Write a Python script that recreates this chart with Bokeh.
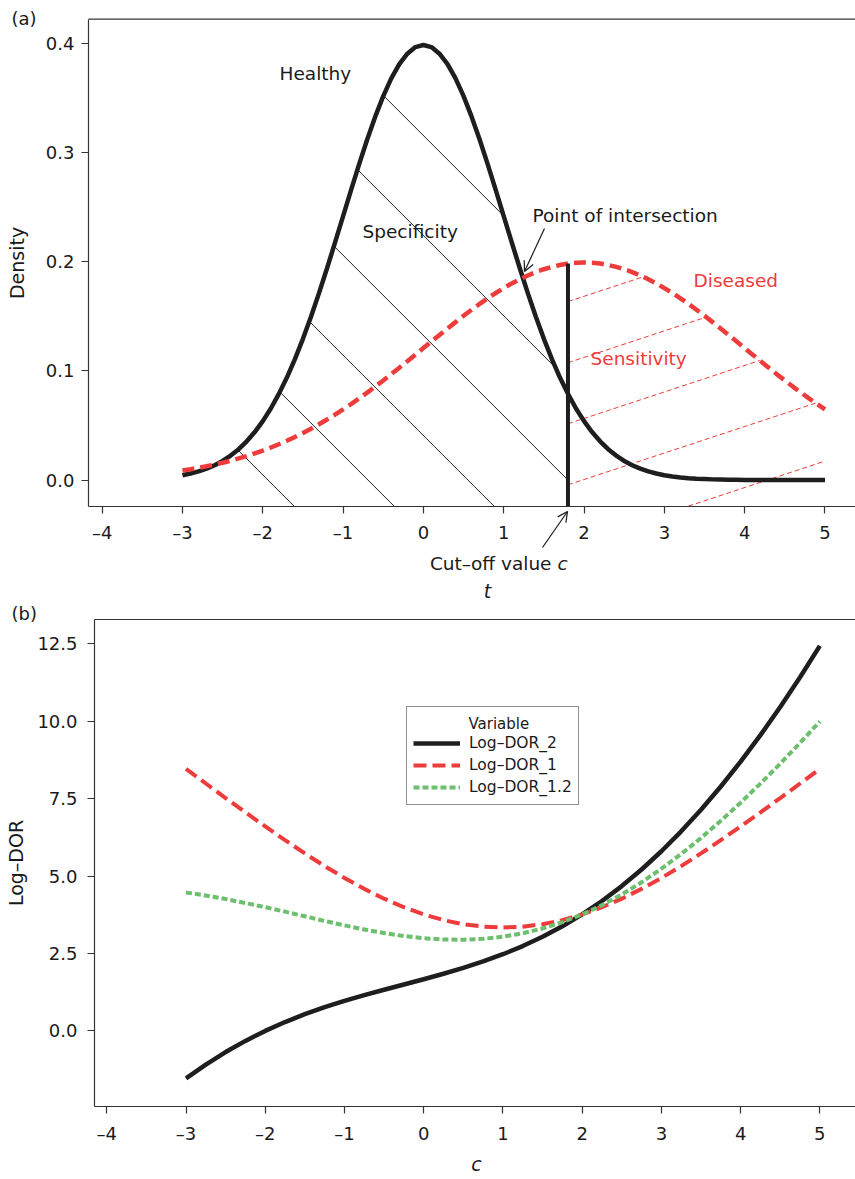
import numpy as np
from bokeh.plotting import figure
from bokeh.models import (Range1d, FixedTicker, Label, Arrow, OpenHead, Legend, LegendItem)
from bokeh.layouts import column
from bokeh.embed import file_html
from bokeh.resources import INLINE

# ---------------- data: panel (a) densities ----------------
t_vals = np.round(np.linspace(-3.0, 5.0, 81), 1)
healthy = [0.0044, 0.0060, 0.0079, 0.0104, 0.0136, 0.0175, 0.0224, 0.0283, 0.0355, 0.0440,
           0.0540, 0.0656, 0.0790, 0.0940, 0.1109, 0.1295, 0.1497, 0.1714, 0.1942, 0.2179,
           0.2420, 0.2661, 0.2897, 0.3123, 0.3332, 0.3521, 0.3683, 0.3814, 0.3910, 0.3970,
           0.3989,
           0.3970, 0.3910, 0.3814, 0.3683, 0.3521, 0.3332, 0.3123, 0.2897, 0.2661, 0.2420,
           0.2179, 0.1942, 0.1714, 0.1497, 0.1295, 0.1109, 0.0940, 0.0790, 0.0656, 0.0540,
           0.0440, 0.0355, 0.0283, 0.0224, 0.0175, 0.0136, 0.0104, 0.0079, 0.0060, 0.0044,
           0.0033, 0.0024, 0.0017, 0.0012, 0.0009, 0.0006, 0.0004, 0.0003, 0.0002, 0.0001,
           0.0001, 0.0000, 0.0000, 0.0000, 0.0000, 0.0000, 0.0000, 0.0000, 0.0000, 0.0000]
diseased = [0.0088, 0.0099, 0.0112, 0.0126, 0.0142, 0.0159, 0.0177, 0.0198, 0.0220, 0.0244,
            0.0270, 0.0298, 0.0328, 0.0360, 0.0395, 0.0431, 0.0470, 0.0511, 0.0555, 0.0600,
            0.0648, 0.0697, 0.0749, 0.0802, 0.0857, 0.0913, 0.0971, 0.1030, 0.1089, 0.1149,
            0.1210, 0.1270, 0.1330, 0.1390, 0.1448, 0.1506, 0.1561, 0.1615, 0.1666, 0.1715,
            0.1760, 0.1803, 0.1841, 0.1876, 0.1907, 0.1933, 0.1955, 0.1972, 0.1985, 0.1992,
            0.1995, 0.1992, 0.1985, 0.1972, 0.1955, 0.1933, 0.1907, 0.1876, 0.1841, 0.1803,
            0.1760, 0.1715, 0.1666, 0.1615, 0.1561, 0.1506, 0.1448, 0.1390, 0.1330, 0.1270,
            0.1210, 0.1149, 0.1089, 0.1030, 0.0971, 0.0913, 0.0857, 0.0802, 0.0749, 0.0697,
            0.0648]
cutoff = 1.8

# ---------------- data: panel (b) log-DOR curves ----------------
c_vals = np.linspace(-3.0, 5.0, 33)
logdor_2 = [-1.531, -1.086, -0.683, -0.322, 0.000, 0.286, 0.540, 0.765, 0.969, 1.154, 1.330,
            1.498, 1.668, 1.845, 2.035, 2.243, 2.475, 2.739, 3.037, 3.376, 3.760, 4.193,
            4.675, 5.211, 5.799, 6.442, 7.138, 7.889, 8.692, 9.548, 10.456, 11.418, 12.428]
logdor_1 = [8.459, 7.986, 7.517, 7.054, 6.600, 6.158, 5.729, 5.320, 4.938, 4.585, 4.268,
            3.992, 3.760, 3.576, 3.444, 3.365, 3.337, 3.365, 3.444, 3.576, 3.760, 3.992,
            4.268, 4.585, 4.938, 5.320, 5.729, 6.158, 6.600, 7.054, 7.517, 7.986, 8.459]
logdor_12 = [4.470, 4.369, 4.259, 4.126, 3.994, 3.849, 3.699, 3.549, 3.407, 3.274, 3.158,
             3.062, 2.992, 2.951, 2.944, 2.972, 3.040, 3.152, 3.307, 3.509, 3.760, 4.059,
             4.405, 4.798, 5.234, 5.713, 6.229, 6.783, 7.368, 7.984, 8.627, 9.297, 9.990]
series_names = ["Log\u2013DOR_2", "Log\u2013DOR_1", "Log\u2013DOR_1.2"]

x_ticks = [-4, -3, -2, -1, 0, 1, 2, 3, 4, 5]
x_tick_labels = {v: (("\u2013" + str(-v)) if v < 0 else str(v)) for v in x_ticks}
a_yticks = [0.0, 0.1, 0.2, 0.3, 0.4]
a_ytick_labels = {0.0: "0.0", 0.1: "0.1", 0.2: "0.2", 0.3: "0.3", 0.4: "0.4"}
b_yticks = [0.0, 2.5, 5.0, 7.5, 10.0, 12.5]
b_ytick_labels = {0.0: "0.0", 2.5: "2.5", 5.0: "5.0", 7.5: "7.5", 10.0: "10.0", 12.5: "12.5"}

# ---------------- styles ----------------
FONT = "DejaVu Sans"
TXT = "#1a1a1a"
AXC = "#333333"
BLACK = "#1e1e1e"
RED = "#EE3B3B"
GREEN = "#6CBF6C"
TICK_FS = "18px"
ANN_FS = "18.5px"
PAGE_X0 = 0
PAGE_W = 855
FIG_W = PAGE_W - PAGE_X0

# axes boxes (page pixels) and their data extents
A_XR, A_YR = (-4.17, 5.38), (-0.024, 0.4226)
A_FW, A_FH, A_L, A_T = 767, 487, 88, 18.7
A_TOP, A_BOT = 0, 600          # figure (a) on the page
B_XR, B_YR = (-4.155, 5.45), (-2.44, 13.28)
B_FW, B_FH, B_L, B_T = 761, 487, 94, 619
B_TOP, B_BOT = 600, 1179       # figure (b) on the page


def a_x(px):
    return A_XR[0] + (px - A_L) / A_FW * (A_XR[1] - A_XR[0])


def a_y(py):
    return A_YR[1] - (py - A_T) / A_FH * (A_YR[1] - A_YR[0])


def b_x(px):
    return B_XR[0] + (px - B_L) / B_FW * (B_XR[1] - B_XR[0])


def b_y(py):
    return B_YR[1] - (py - B_T) / B_FH * (B_YR[1] - B_YR[0])


def make_fig(fx, fy, top, bot, xr, yr, yticks, ylabels, ylabel, yl_standoff, yt_standoff):
    p = figure(frame_width=FIG_W, frame_height=bot - top,
               x_range=Range1d(fx(PAGE_X0), fx(PAGE_W)), y_range=Range1d(fy(bot), fy(top)),
               output_backend="svg", toolbar_location=None,
               min_border_left=0, min_border_right=0, min_border_top=0, min_border_bottom=0)
    p.xgrid.visible = False
    p.ygrid.visible = False
    p.outline_line_color = None
    p.background_fill_color = "white"
    p.border_fill_color = "white"
    p.xaxis.fixed_location = yr[0]
    p.xaxis.bounds = (xr[0], xr[1])
    p.yaxis.fixed_location = xr[0]
    p.yaxis.bounds = (yr[0], yr[1])
    p.xaxis.ticker = FixedTicker(ticks=x_ticks)
    p.xaxis.major_label_overrides = x_tick_labels
    p.yaxis.ticker = FixedTicker(ticks=yticks)
    p.yaxis.major_label_overrides = ylabels
    for ax in (p.xaxis[0], p.yaxis[0]):
        ax.axis_line_color = AXC
        ax.axis_line_width = 1.2
        ax.major_tick_line_color = AXC
        ax.major_tick_line_width = 1.2
        ax.major_tick_in = 0
        ax.major_tick_out = 7
        ax.minor_tick_line_color = None
        ax.major_label_text_font = FONT
        ax.major_label_text_font_size = TICK_FS
        ax.major_label_text_color = TXT
    p.xaxis.major_label_standoff = 9
    p.yaxis.major_label_standoff = yt_standoff
    p.yaxis.axis_label = ylabel
    p.yaxis.axis_label_text_font = FONT
    p.yaxis.axis_label_text_font_size = "19px"
    p.yaxis.axis_label_text_font_style = "normal"
    p.yaxis.axis_label_text_color = TXT
    p.yaxis.axis_label_standoff = yl_standoff
    # top edge of the box
    p.segment(x0=[xr[0]], y0=[yr[1]], x1=[xr[1]], y1=[yr[1]], line_color=AXC, line_width=1.2)
    return p


def label(p, x, y, text, color=TXT, align="left", size=ANN_FS, style_="normal", base="middle"):
    p.add_layout(Label(x=x, y=y, text=text, text_font=FONT, text_font_size=size,
                       text_color=color, text_align=align, text_baseline=base,
                       text_font_style=style_))


# ================= panel (a) =================
p1 = make_fig(a_x, a_y, A_TOP, A_BOT, A_XR, A_YR, a_yticks, a_ytick_labels, "Density", 15, 7)

t = np.asarray(t_vals, dtype=float)
h = np.asarray(healthy, dtype=float)
d = np.asarray(diseased, dtype=float)
sx = A_FW / (A_XR[1] - A_XR[0])
sy = A_FH / (A_YR[1] - A_YR[0])
ybot = A_YR[0]


def runs(xg, yl, top):
    m = (yl >= ybot) & (yl <= top)
    xs, ys = [], []
    i = 0
    n = len(m)
    while i < n:
        if m[i]:
            j = i
            while j + 1 < n and m[j + 1]:
                j += 1
            if j > i:
                xs.append([xg[i], xg[j]])
                ys.append([yl[i], yl[j]])
            i = j + 1
        else:
            i += 1
    return xs, ys


# black hatching (specificity region: under healthy curve, left of cutoff)
xg = np.linspace(t[0], cutoff, 3000)
topg = np.interp(xg, t, h)
bx, by = [], []
for k in range(0, 8):
    xk = -1.61 + 1.245 * k
    yl = ybot + (xk - xg) * sx / sy
    xs_, ys_ = runs(xg, yl, topg)
    bx += xs_
    by += ys_
p1.multi_line(bx, by, line_color=BLACK, line_width=1)

# red hatching (sensitivity region: under diseased curve, right of cutoff)
xg2 = np.linspace(cutoff, t[-1], 3000)
topg2 = np.interp(xg2, t, d)
rx, ry = [], []
for j in range(0, 8):
    y0 = 0.1636 - 0.056 * j
    yl = y0 + 0.33 * sx / sy * (xg2 - cutoff)
    xs_, ys_ = runs(xg2, yl, topg2)
    rx += xs_
    ry += ys_
p1.multi_line(rx, ry, line_color=RED, line_width=1, line_dash="5 3")

p1.line(t, h, line_color=BLACK, line_width=4.5, line_join="round")
p1.line(t, d, line_color=RED, line_width=4.5, line_dash="12 6")
p1.segment(x0=[cutoff], y0=[ybot], x1=[cutoff], y1=[float(np.interp(cutoff, t, d))],
           line_color=BLACK, line_width=4)

label(p1, a_x(11), a_y(18), "(a)", size="18px")
label(p1, a_x(279), a_y(73), "Healthy")
label(p1, a_x(362), a_y(231), "Specificity")
label(p1, a_x(532), a_y(215), "Point of intersection")
label(p1, a_x(693), a_y(280), "Diseased", color=RED)
label(p1, a_x(590), a_y(358), "Sensitivity", color=RED)
label(p1, a_x(551), a_y(563), "Cut\u2013off value", align="right")
label(p1, a_x(557), a_y(563), "c", style_="italic")
label(p1, a_x(487), a_y(590), "t", align="center", size="19px", style_="italic")

p1.add_layout(Arrow(end=OpenHead(size=10, line_color=TXT, line_width=1.2),
                    x_start=a_x(544), y_start=a_y(228), x_end=a_x(524), y_end=a_y(271),
                    line_color=TXT, line_width=1.2))
p1.add_layout(Arrow(end=OpenHead(size=10, line_color=TXT, line_width=1.2),
                    x_start=a_x(542), y_start=a_y(547), x_end=a_x(567), y_end=a_y(511),
                    line_color=TXT, line_width=1.2))

# ================= panel (b) =================
p2 = make_fig(b_x, b_y, B_TOP, B_BOT, B_XR, B_YR, b_yticks, b_ytick_labels, "Log\u2013DOR", 7, 10)

c = np.asarray(c_vals, dtype=float)
r2 = p2.line(c, logdor_2, line_color=BLACK, line_width=4.5, line_join="round")
r1 = p2.line(c, logdor_1, line_color=RED, line_width=4, line_dash="13 6")
r12 = p2.line(c, logdor_12, line_color=GREEN, line_width=4, line_dash="6 3")

legend = Legend(items=[LegendItem(label=series_names[0], renderers=[r2]),
                       LegendItem(label=series_names[1], renderers=[r1]),
                       LegendItem(label=series_names[2], renderers=[r12])],
                location=(406 - PAGE_X0, B_BOT - 805), title="\u00a0",
                title_text_font_size="13px", title_standoff=4,
                label_text_font=FONT, label_text_font_size="15.5px", label_text_color=TXT,
                border_line_color="#222222", border_line_width=1.2,
                background_fill_color="white", background_fill_alpha=0.0,
                padding=6, spacing=0, margin=0, label_height=22, glyph_height=20,
                glyph_width=47, label_standoff=9)
p2.add_layout(legend)
label(p2, b_x(468), b_y(723), "Variable", size="15px")

label(p2, b_x(11), b_y(613), "(b)", size="18px")
label(p2, b_x(476), b_y(1163), "c", align="center", size="19px", style_="italic")

layout = column(p1, p2, spacing=0)
open("out.html", "w").write(file_html(layout, INLINE))
